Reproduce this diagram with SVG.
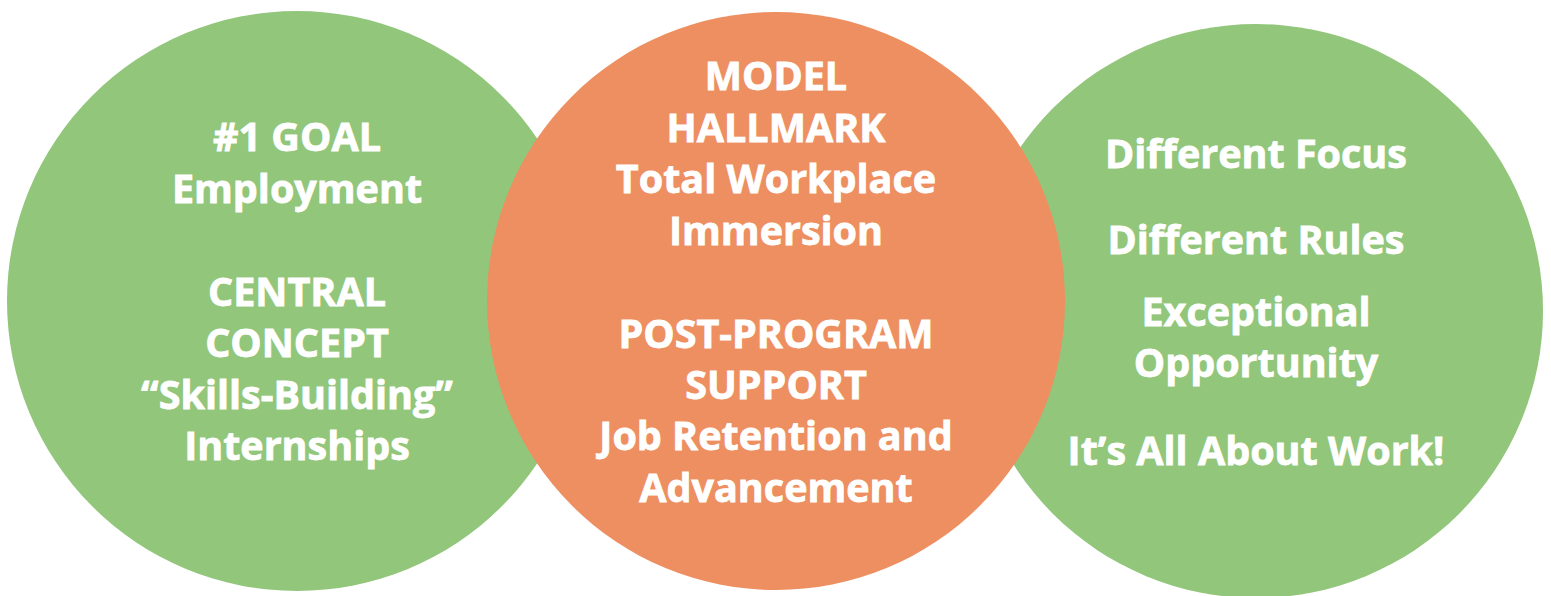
<svg xmlns="http://www.w3.org/2000/svg" width="1551" height="596" viewBox="0 0 1551 596">
<style>
.g{fill:#92C67B}
.o{fill:#ED8F61}
text{font-family:"Open Sans","Liberation Sans",sans-serif;font-weight:700;font-size:39.5px;fill:#fff;stroke:#fff;stroke-width:0.8;text-anchor:middle}
</style>
<rect width="1551" height="596" fill="#fff"/>
<g id="left">
<circle class="g" cx="297" cy="301" r="290"/>
<text x="297" y="151">#1 GOAL</text>
<text x="297" y="203">Employment</text>
<text x="297" y="306">CENTRAL</text>
<text x="297" y="357">CONCEPT</text>
<text x="297" y="409">“Skills-Building”</text>
<text x="297" y="460">Internships</text>
</g>
<g id="right">
<circle class="g" cx="1256" cy="311" r="287"/>
<text x="1256" y="168">Different Focus</text>
<text x="1256" y="254">Different Rules</text>
<text x="1256" y="326">Exceptional</text>
<text x="1256" y="377">Opportunity</text>
<text x="1256" y="465">It’s All About Work!</text>
</g>
<g id="middle">
<circle class="o" cx="776" cy="301" r="289"/>
<text x="776" y="90">MODEL</text>
<text x="776" y="142">HALLMARK</text>
<text x="776" y="193">Total Workplace</text>
<text x="776" y="245">Immersion</text>
<text x="776" y="348">POST-PROGRAM</text>
<text x="776" y="399">SUPPORT</text>
<text x="776" y="450">Job Retention and</text>
<text x="776" y="502">Advancement</text>
</g>
</svg>
